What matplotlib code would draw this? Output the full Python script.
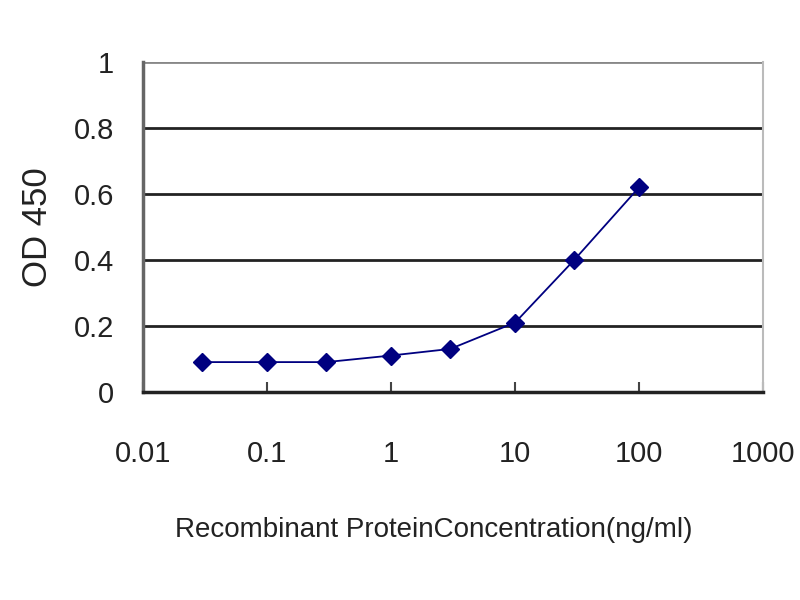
import matplotlib
matplotlib.use("Agg")
import matplotlib.pyplot as plt

# concentration (ng/ml) and OD 450 readings
conc = [0.03, 0.1, 0.3, 1, 3, 10, 30, 100]
od450 = [0.09, 0.09, 0.09, 0.11, 0.13, 0.21, 0.40, 0.62]
x_ticks = [0.01, 0.1, 1, 10, 100, 1000]
x_labels = ["0.01", "0.1", "1", "10", "100", "1000"]
y_ticks = [0, 0.2, 0.4, 0.6, 0.8, 1]
y_labels = ["0", "0.2", "0.4", "0.6", "0.8", "1"]

plt.rcParams['font.family'] = ['Liberation Sans', 'DejaVu Sans']

fig = plt.figure(figsize=(8, 6), dpi=100)
ax = fig.add_axes([0.179, 0.347, 0.775, 0.550])

# horizontal grid lines
for yv in y_ticks[1:-1]:
    ax.axhline(yv, color="#222222", linewidth=2, zorder=1)
ax.axhline(1, color="#888888", linewidth=2, zorder=1)

ax.plot(conc, od450, color="#000080", linewidth=1.3, marker="D",
        markersize=9.5, markerfacecolor="#000080", markeredgecolor="#000080", zorder=3)

ax.set_xscale("log")
ax.set_xlim(0.01, 1000)
ax.set_ylim(0, 1)
ax.set_xticks(x_ticks)
ax.set_xticklabels(x_labels)
ax.minorticks_off()
ax.set_yticks(y_ticks)
ax.set_yticklabels(y_labels)

ax.tick_params(axis="x", direction="in", length=7, width=1.5, color="#444444",
               pad=35, labelsize=21, labelcolor="#222222")
ax.tick_params(axis="y", length=0, pad=21, labelsize=21, labelcolor="#222222")

ax.spines["top"].set_visible(False)
ax.spines["left"].set_color("#666666")
ax.spines["left"].set_linewidth(2.5)
ax.spines["bottom"].set_color("#222222")
ax.spines["bottom"].set_linewidth(2.5)
ax.spines["right"].set_color("#bbbbbb")
ax.spines["right"].set_linewidth(1.5)

ax.set_ylabel("OD 450", fontsize=25, color="#222222", labelpad=14)
ax.set_xlabel("Recombinant ProteinConcentration(ng/ml)", fontsize=20,
              color="#222222")
ax.xaxis.set_label_coords(0.468, -0.378)

fig.savefig("out.png", dpi=100)
